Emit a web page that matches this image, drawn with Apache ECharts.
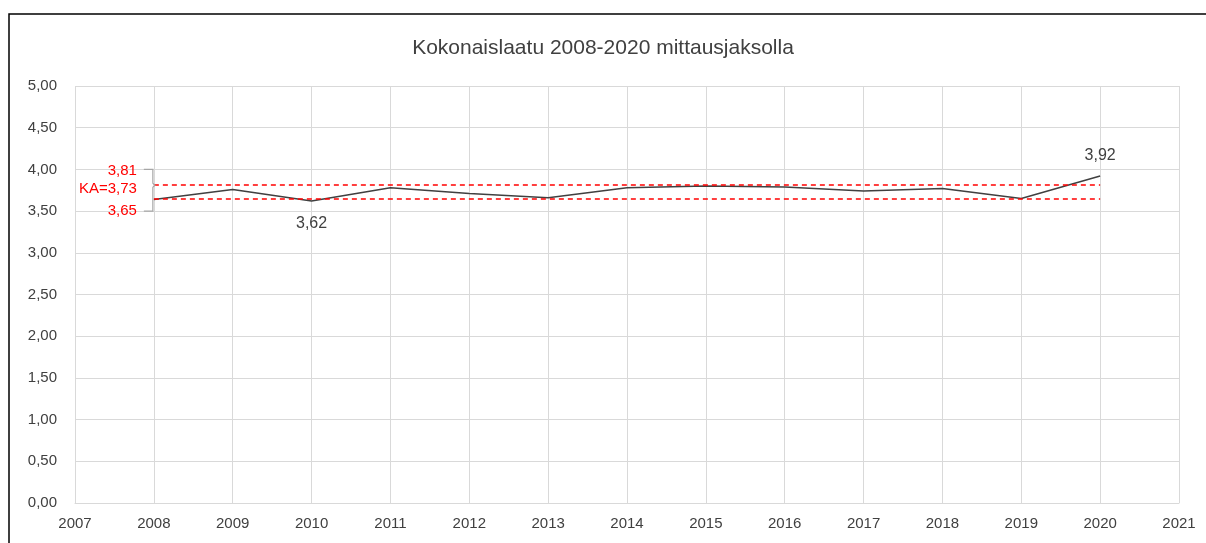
<!DOCTYPE html>
<html>
<head>
<meta charset="UTF-8">
<title>Kokonaislaatu</title>
<script src="https://cdn.jsdelivr.net/npm/echarts@6/dist/echarts.min.js"></script>
<style>
  html, body { margin: 0; padding: 0; background: #fff; }
  #chart { width: 1206px; height: 543px; }
</style>
</head>
<body>
<div id="chart"></div>
<script>
// vuodet ja arvot
var years = [2008, 2009, 2010, 2011, 2012, 2013, 2014, 2015, 2016, 2017, 2018, 2019, 2020];
var quality = [3.64, 3.76, 3.62, 3.78, 3.71, 3.66, 3.78, 3.80, 3.79, 3.74, 3.77, 3.65, 3.92];
var limits = [3.81, 3.65];      // ylä- ja alaraja
var average = 3.73;             // KA
var labelYears = [2010, 2020];  // arvot näkyviin
var yTicks = [0, 0.5, 1, 1.5, 2, 2.5, 3, 3.5, 4, 4.5, 5];

function fi(v) { return v.toFixed(2).replace('.', ','); }

var chart = echarts.init(document.getElementById('chart'));

var lineData = years.map(function (y, i) {
  var item = { value: [y, quality[i]] };
  if (labelYears.indexOf(y) >= 0) {
    item.label = {
      show: true,
      position: y === 2010 ? 'bottom' : 'top',
      distance: y === 2010 ? 14 : 12,
      formatter: function (p) { return fi(p.value[1]); },
      color: '#404040',
      fontSize: 16,
      fontFamily: 'Liberation Sans'
    };
  }
  return item;
});

chart.setOption({
  backgroundColor: '#fff',
  animation: false,
  title: {
    text: 'Kokonaislaatu 2008-2020 mittausjaksolla',
    left: 'center',
    top: 33,
    textStyle: { color: '#404040', fontSize: 21, fontWeight: 'normal', fontFamily: 'Liberation Sans' }
  },
  grid: { left: 75, right: 27, top: 86, bottom: 40 },
  xAxis: {
    type: 'value',
    min: 2007, max: 2021, interval: 1,
    axisLine: { show: true, lineStyle: { color: '#d9d9d9' } },
    axisTick: { show: false },
    splitLine: { show: true, lineStyle: { color: '#d9d9d9' } },
    axisLabel: { color: '#404040', fontSize: 15, margin: 13, fontFamily: 'Liberation Sans',
      formatter: function (v) { return String(v); } }
  },
  yAxis: {
    type: 'value',
    min: yTicks[0], max: yTicks[yTicks.length - 1], interval: 0.5,
    axisLine: { show: false },
    axisTick: { show: false },
    splitLine: { lineStyle: { color: '#d9d9d9' } },
    axisLabel: { color: '#404040', fontSize: 15, margin: 18, fontFamily: 'Liberation Sans',
      formatter: function (v) { return fi(v); } }
  },
  series: [{
    type: 'line',
    data: lineData,
    symbol: 'circle',
    symbolSize: 1,
    showAllSymbol: true,
    itemStyle: { color: 'rgba(0,0,0,0)', borderWidth: 0 },
    lineStyle: { color: '#404040', width: 1.5 },
    markLine: {
      silent: true,
      symbol: 'none',
      label: { show: false },
      lineStyle: { color: '#ff0000', type: [5, 4], width: 1.5 },
      data: limits.map(function (v) {
        return [{ coord: [years[0], v] }, { coord: [years[years.length - 1], v] }];
      })
    }
  }]
});

// kehys, sulkumerkki ja punaiset tekstit
var pTop = chart.convertToPixel({ gridIndex: 0 }, [years[0], 4.0]);
var pBot = chart.convertToPixel({ gridIndex: 0 }, [years[0], 3.5]);
var pMid = chart.convertToPixel({ gridIndex: 0 }, [years[0], 3.81]);
var bx = pTop[0];
var redText = { fill: '#ff0000', fontSize: 15, fontFamily: 'Liberation Sans', align: 'right', verticalAlign: 'middle' };

chart.setOption({
  graphic: [
    { type: 'rect', shape: { x: 9, y: 14, width: 1230, height: 600 },
      style: { fill: 'none', stroke: '#000', lineWidth: 1.5 }, silent: true },
    { type: 'polyline', shape: { points: [
        [bx - 10, pTop[1]], [bx - 1, pTop[1]], [bx - 1, pMid[1] - 2], [bx + 1, pMid[1]],
        [bx - 1, pMid[1] + 2], [bx - 1, pBot[1]], [bx - 10, pBot[1]]
      ] },
      style: { fill: 'none', stroke: '#a6a6a6', lineWidth: 1.2 }, silent: true, z: 10 },
    { type: 'text', x: bx - 17, y: pTop[1] + 1, z: 10, style: Object.assign({ text: fi(limits[0]) }, redText) },
    { type: 'text', x: bx - 17, y: (pTop[1] + pBot[1]) / 2 - 1, z: 10, style: Object.assign({ text: 'KA=' + fi(average) }, redText) },
    { type: 'text', x: bx - 17, y: pBot[1], z: 10, style: Object.assign({ text: fi(limits[1]) }, redText) }
  ]
});

window.addEventListener('resize', function () { chart.resize(); });
</script>
</body>
</html>
